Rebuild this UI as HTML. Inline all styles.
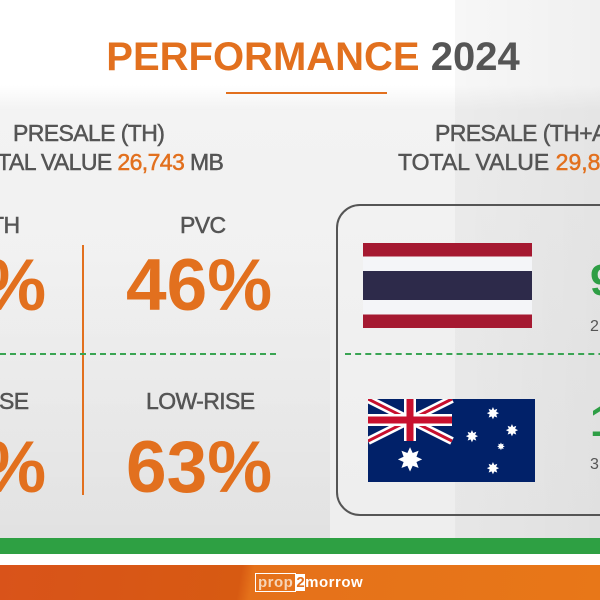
<!DOCTYPE html>
<html><head><meta charset="utf-8"><style>
body{margin:0}
#c{position:relative;width:600px;height:600px;overflow:hidden;background:linear-gradient(#fff 0,#fff 85px,#f3f3f3 110px,#eeeeee 520px);font-family:"Liberation Sans",sans-serif}
.t{position:absolute;white-space:nowrap;line-height:1}
.s{font-size:23px;-webkit-text-stroke:0.5px currentColor;letter-spacing:-0.6px}
.p{font-size:73px;font-weight:bold}
.o{color:#e2701e}.g{color:#555}.gr{color:#2e9e45}
</style></head><body><div id="c">
<div style="position:absolute;left:455px;top:0;width:145px;height:540px;background:linear-gradient(90deg,rgba(0,0,0,0.03),rgba(0,0,0,0.06))"></div>
<div style="position:absolute;left:0;top:250px;width:330px;height:290px;background:linear-gradient(rgba(0,0,0,0),rgba(0,0,0,0.05))"></div>
<div class="t" style="left:0;width:626px;text-align:center;top:37px;font-size:40px;font-weight:bold"><span class="o">PERFORMANCE</span> <span class="g">2024</span></div>
<div style="position:absolute;left:226px;top:92px;width:161px;height:2px;background:#e2701e"></div>
<div class="t g s" style="left:13px;top:122px">PRESALE (TH)</div>
<div class="t g s" style="left:-20px;top:151px">OTAL VALUE <span class="o">26,743</span> MB</div>
<div class="t g s" style="left:435px;top:122px">PRESALE (TH+AU)</div>
<div class="t g s" style="left:398px;top:151px;letter-spacing:0">TOTAL VALUE <span class="o">29,8</span></div>
<div style="position:absolute;left:82px;top:245px;width:2px;height:250px;background:#e2701e"></div>
<div class="t g s" style="left:-10px;top:214px">TH</div>
<div class="t g s" style="left:180px;top:214px">PVC</div>
<div class="t o p" style="left:-100px;top:249px">52%</div>
<div class="t o p" style="left:126px;top:249px">46%</div>
<div style="position:absolute;left:0;top:353px;width:276px;border-top:2px dashed #3aa453"></div>
<div style="position:absolute;left:345px;top:353px;width:300px;border-top:2px dashed #3aa453"></div>
<div class="t g s" style="left:-85px;top:390px">HIGH-RISE</div>
<div class="t g s" style="left:146px;top:390px">LOW-RISE</div>
<div class="t o p" style="left:-100px;top:431px">37%</div>
<div class="t o p" style="left:126px;top:431px">63%</div>
<div style="position:absolute;left:336px;top:204px;width:340px;height:308px;border:2px solid #555;border-radius:24px"></div>
<div style="position:absolute;left:363px;top:243px;width:169px;height:85px;background:linear-gradient(#a51931 0,#a51931 16%,#f4f5f8 16%,#f4f5f8 33%,#2d2a4a 33%,#2d2a4a 67%,#f4f5f8 67%,#f4f5f8 84%,#a51931 84%)"></div>
<svg style="position:absolute;left:368px;top:399px" width="167" height="83" viewBox="0 0 167 83" preserveAspectRatio="none">
<rect width="167" height="83" fill="#012169"/>
<path d="M0 0L84 42M84 0L0 42" stroke="#fff" stroke-width="8"/>
<path d="M0 0L84 42M84 0L0 42" stroke="#c8102e" stroke-width="3"/>
<path d="M42 0V42M0 21H84" stroke="#fff" stroke-width="12"/>
<path d="M42 0V42M0 21H84" stroke="#c8102e" stroke-width="7"/>
<g fill="#fff" font-size="16" font-family="DejaVu Sans" text-anchor="middle">
<text x="42" y="72" font-size="32">✸</text>
<text x="125" y="20">✸</text><text x="144" y="37">✸</text><text x="104" y="43">✸</text>
<text x="133" y="51" font-size="10">✸</text><text x="125" y="75">✸</text></g>
</svg>
<div class="t gr" style="left:590px;top:259px;font-size:44px;font-weight:bold">9</div>
<div class="t g" style="left:590px;top:319px;font-size:16px">2</div>
<div class="t gr" style="left:590px;top:400px;font-size:44px;font-weight:bold">1</div>
<div class="t g" style="left:590px;top:457px;font-size:16px">3</div>
<div style="position:absolute;left:0;top:538px;width:600px;height:16px;background:#2ea043"></div>
<div style="position:absolute;left:0;top:554px;width:600px;height:11px;background:#fff"></div>
<div style="position:absolute;left:0;top:565px;width:600px;height:35px;background:linear-gradient(100deg,#d9531a 0,#d75a12 40%,#e5711a 42%,#e87718 100%)"></div>
<div class="t" style="left:255px;top:575px;font-size:15px;color:#fff;font-weight:bold;letter-spacing:0.5px"><span style="border:1px solid #fff;padding:0 2px;color:#f6d5b8">prop</span><span style="background:#fff;color:#e2701e">2</span>morrow</div>
</div></body></html>
